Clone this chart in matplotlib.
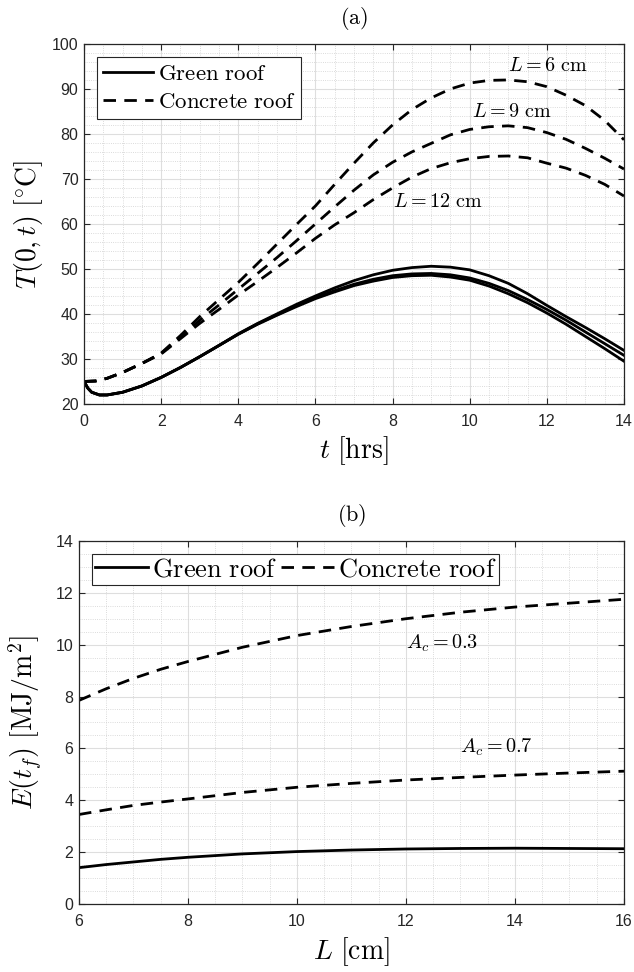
import matplotlib
matplotlib.use("Agg")
import matplotlib.pyplot as plt
from matplotlib.ticker import MultipleLocator

plt.rcParams["font.family"] = ["Liberation Sans", "DejaVu Sans"]
plt.rcParams["mathtext.fontset"] = "cm"

# ---- (a) surface temperature vs time ----
t_green = [0, 0.1, 0.2, 0.4, 0.6, 1, 1.5, 2, 2.5, 3, 3.5, 4, 4.5, 5, 5.5, 6, 6.5, 7, 7.5, 8, 8.5,
           9, 9.5, 10, 10.5, 11, 11.5, 12, 12.5, 13, 13.5, 14]
green_L6 = [25, 23.5, 22.6, 22.0, 22.0, 22.6, 24.0, 25.9, 28.1, 30.5, 33.0, 35.6, 37.9, 40.0, 42.1,
            44.0, 45.8, 47.4, 48.7, 49.7, 50.3, 50.6, 50.4, 49.8, 48.5, 46.8, 44.5, 41.9, 39.4,
            37.0, 34.5, 31.9]
green_L9 = [25, 23.5, 22.6, 22.0, 22.0, 22.6, 24.0, 25.9, 28.1, 30.5, 33.0, 35.5, 37.8, 39.8, 41.8,
            43.6, 45.2, 46.6, 47.7, 48.5, 48.9, 49.0, 48.7, 48.0, 46.8, 45.2, 43.2, 41.0, 38.6,
            36.0, 33.4, 30.8]
green_L12 = [25, 23.5, 22.6, 22.0, 22.0, 22.6, 24.0, 25.9, 28.1, 30.5, 33.0, 35.5, 37.7, 39.7, 41.6,
             43.4, 44.9, 46.3, 47.3, 48.1, 48.5, 48.6, 48.2, 47.5, 46.2, 44.5, 42.5, 40.2, 37.7,
             35.0, 32.3, 29.5]

t_conc = [0, 0.3, 0.6, 1, 1.5, 2, 2.5, 3, 3.5, 4, 4.5, 5, 5.5, 6, 6.5, 7, 7.5, 8, 8.5, 9, 9.5,
          10, 10.5, 11, 11.5, 12, 12.5, 13, 13.5, 14]
conc_L6 = [25, 25.1, 25.7, 27.0, 29.0, 31.3, 35.2, 39.4, 43.2, 47.0, 51.2, 55.5, 59.8, 64.0, 68.8,
           73.5, 78.0, 82.0, 85.4, 88.0, 90.0, 91.3, 91.9, 92.0, 91.6, 90.5, 88.6, 86.3, 83.0, 78.7]
conc_L9 = [25, 25.1, 25.7, 27.0, 29.0, 31.2, 34.8, 38.6, 42.0, 45.5, 49.0, 52.5, 56.2, 60.0, 63.8,
           67.5, 70.9, 73.7, 76.0, 77.9, 79.8, 81.0, 81.6, 81.8, 81.4, 80.3, 78.8, 76.8, 74.6, 72.2]
conc_L12 = [25, 25.1, 25.7, 27.0, 29.0, 31.1, 34.5, 37.9, 41.0, 44.2, 47.2, 50.3, 53.5, 56.8, 59.8,
            62.5, 65.4, 68.0, 70.4, 72.3, 73.6, 74.5, 75.0, 75.1, 74.7, 73.5, 72.4, 70.8, 68.8, 66.2]

labels_a = [r"$L = 6\ \mathrm{cm}$", r"$L = 9\ \mathrm{cm}$", r"$L = 12\ \mathrm{cm}$"]
label_pos_a = [(11.0, 95.2), (10.05, 85.0), (8.0, 65.0)]

# ---- (b) energy vs thickness ----
L_cm = [6, 6.5, 7, 7.5, 8, 9, 10, 11, 12, 13, 14, 15, 16]
E_green = [1.4, 1.52, 1.62, 1.72, 1.8, 1.93, 2.02, 2.08, 2.12, 2.14, 2.15, 2.14, 2.13]
E_conc_03 = [7.85, 8.3, 8.7, 9.05, 9.35, 9.9, 10.35, 10.7, 11.0, 11.25, 11.45, 11.6, 11.75]
E_conc_07 = [3.45, 3.63, 3.8, 3.93, 4.05, 4.3, 4.5, 4.65, 4.78, 4.88, 4.97, 5.05, 5.12]

labels_b = [r"$A_c = 0.3$", r"$A_c = 0.7$"]
label_pos_b = [(12.0, 10.05), (13.0, 6.05)]

lw = 2.0
dash = (4.5, 3.0)
dark = "#262626"


def style_axes(ax):
    ax.grid(True, which="major", color="#dedede", linewidth=0.8, linestyle="-")
    ax.grid(True, which="minor", color="#cfcfcf", linewidth=0.6, linestyle=":")
    ax.set_axisbelow(True)
    ax.tick_params(which="major", direction="in", length=4, width=0.8,
                   top=True, right=True, labelsize=11.5, colors=dark)
    ax.tick_params(axis="x", which="major", pad=7)
    ax.tick_params(axis="y", which="major", pad=4)
    ax.tick_params(which="minor", length=0, top=True, right=True)
    for s in ax.spines.values():
        s.set_color(dark)
        s.set_linewidth(0.9)


fig = plt.figure(figsize=(6.34, 9.72), dpi=100)

# (a)
ax1 = fig.add_axes([0.1325, 0.5844, 0.8517, 0.3704])
ax1.plot(t_green, green_L6, color="black", lw=lw, label=r"$\mathrm{Green\ roof}$")
ax1.plot(t_green, green_L9, color="black", lw=lw)
ax1.plot(t_green, green_L12, color="black", lw=lw)
ax1.plot(t_conc, conc_L6, color="black", lw=lw, linestyle=(0, dash), label=r"$\mathrm{Concrete\ roof}$")
ax1.plot(t_conc, conc_L9, color="black", lw=lw, linestyle=(0, dash))
ax1.plot(t_conc, conc_L12, color="black", lw=lw, linestyle=(0, dash))
for txt, (x, y) in zip(labels_a, label_pos_a):
    ax1.text(x, y, txt, fontsize=14.5, ha="left", va="center")
ax1.set_xlim(0, 14)
ax1.set_ylim(20, 100)
ax1.xaxis.set_major_locator(MultipleLocator(2))
ax1.xaxis.set_minor_locator(MultipleLocator(0.5))
ax1.yaxis.set_major_locator(MultipleLocator(10))
ax1.yaxis.set_minor_locator(MultipleLocator(2))
style_axes(ax1)
ax1.set_xlabel(r"$t\ [\mathrm{hrs}]$", fontsize=20, labelpad=4)
ax1.set_ylabel(r"$T(0,t)\ [^{\circ}\mathrm{C}]$", fontsize=20, labelpad=5)
ax1.set_title(r"$\mathrm{(a)}$", fontsize=16, pad=14)
leg1 = ax1.legend(loc="upper left", bbox_to_anchor=(0.024, 0.965), fontsize=16.5,
                  handlelength=2.2, handletextpad=0.2, borderpad=0.25,
                  labelspacing=0.2, borderaxespad=0.0, fancybox=False, framealpha=1)
leg1.get_frame().set_edgecolor(dark)
leg1.get_frame().set_linewidth(0.8)

# (b)
ax2 = fig.add_axes([0.1246, 0.07, 0.8596, 0.3735])
ax2.plot(L_cm, E_green, color="black", lw=lw, label=r"$\mathrm{Green\ roof}$")
ax2.plot(L_cm, E_conc_03, color="black", lw=lw, linestyle=(0, dash), label=r"$\mathrm{Concrete\ roof}$")
ax2.plot(L_cm, E_conc_07, color="black", lw=lw, linestyle=(0, dash))
for txt, (x, y) in zip(labels_b, label_pos_b):
    ax2.text(x, y, txt, fontsize=14.5, ha="left", va="center")
ax2.set_xlim(6, 16)
ax2.set_ylim(0, 14)
ax2.xaxis.set_major_locator(MultipleLocator(2))
ax2.xaxis.set_minor_locator(MultipleLocator(0.5))
ax2.yaxis.set_major_locator(MultipleLocator(2))
ax2.yaxis.set_minor_locator(MultipleLocator(0.5))
style_axes(ax2)
ax2.set_xlabel(r"$L\ [\mathrm{cm}]$", fontsize=20, labelpad=5)
ax2.set_ylabel(r"$E(t_f)\ [\mathrm{MJ/m}^2]$", fontsize=20, labelpad=8)
ax2.set_title(r"$\mathrm{(b)}$", fontsize=16, pad=14)
leg2 = ax2.legend(loc="upper left", bbox_to_anchor=(0.024, 0.963), fontsize=19, ncol=2,
                  handlelength=2.0, handletextpad=0.15, borderpad=0.12, columnspacing=0.15,
                  borderaxespad=0.0, fancybox=False, framealpha=1)
leg2.get_frame().set_edgecolor(dark)
leg2.get_frame().set_linewidth(0.8)

fig.savefig("out.png", dpi=100)
